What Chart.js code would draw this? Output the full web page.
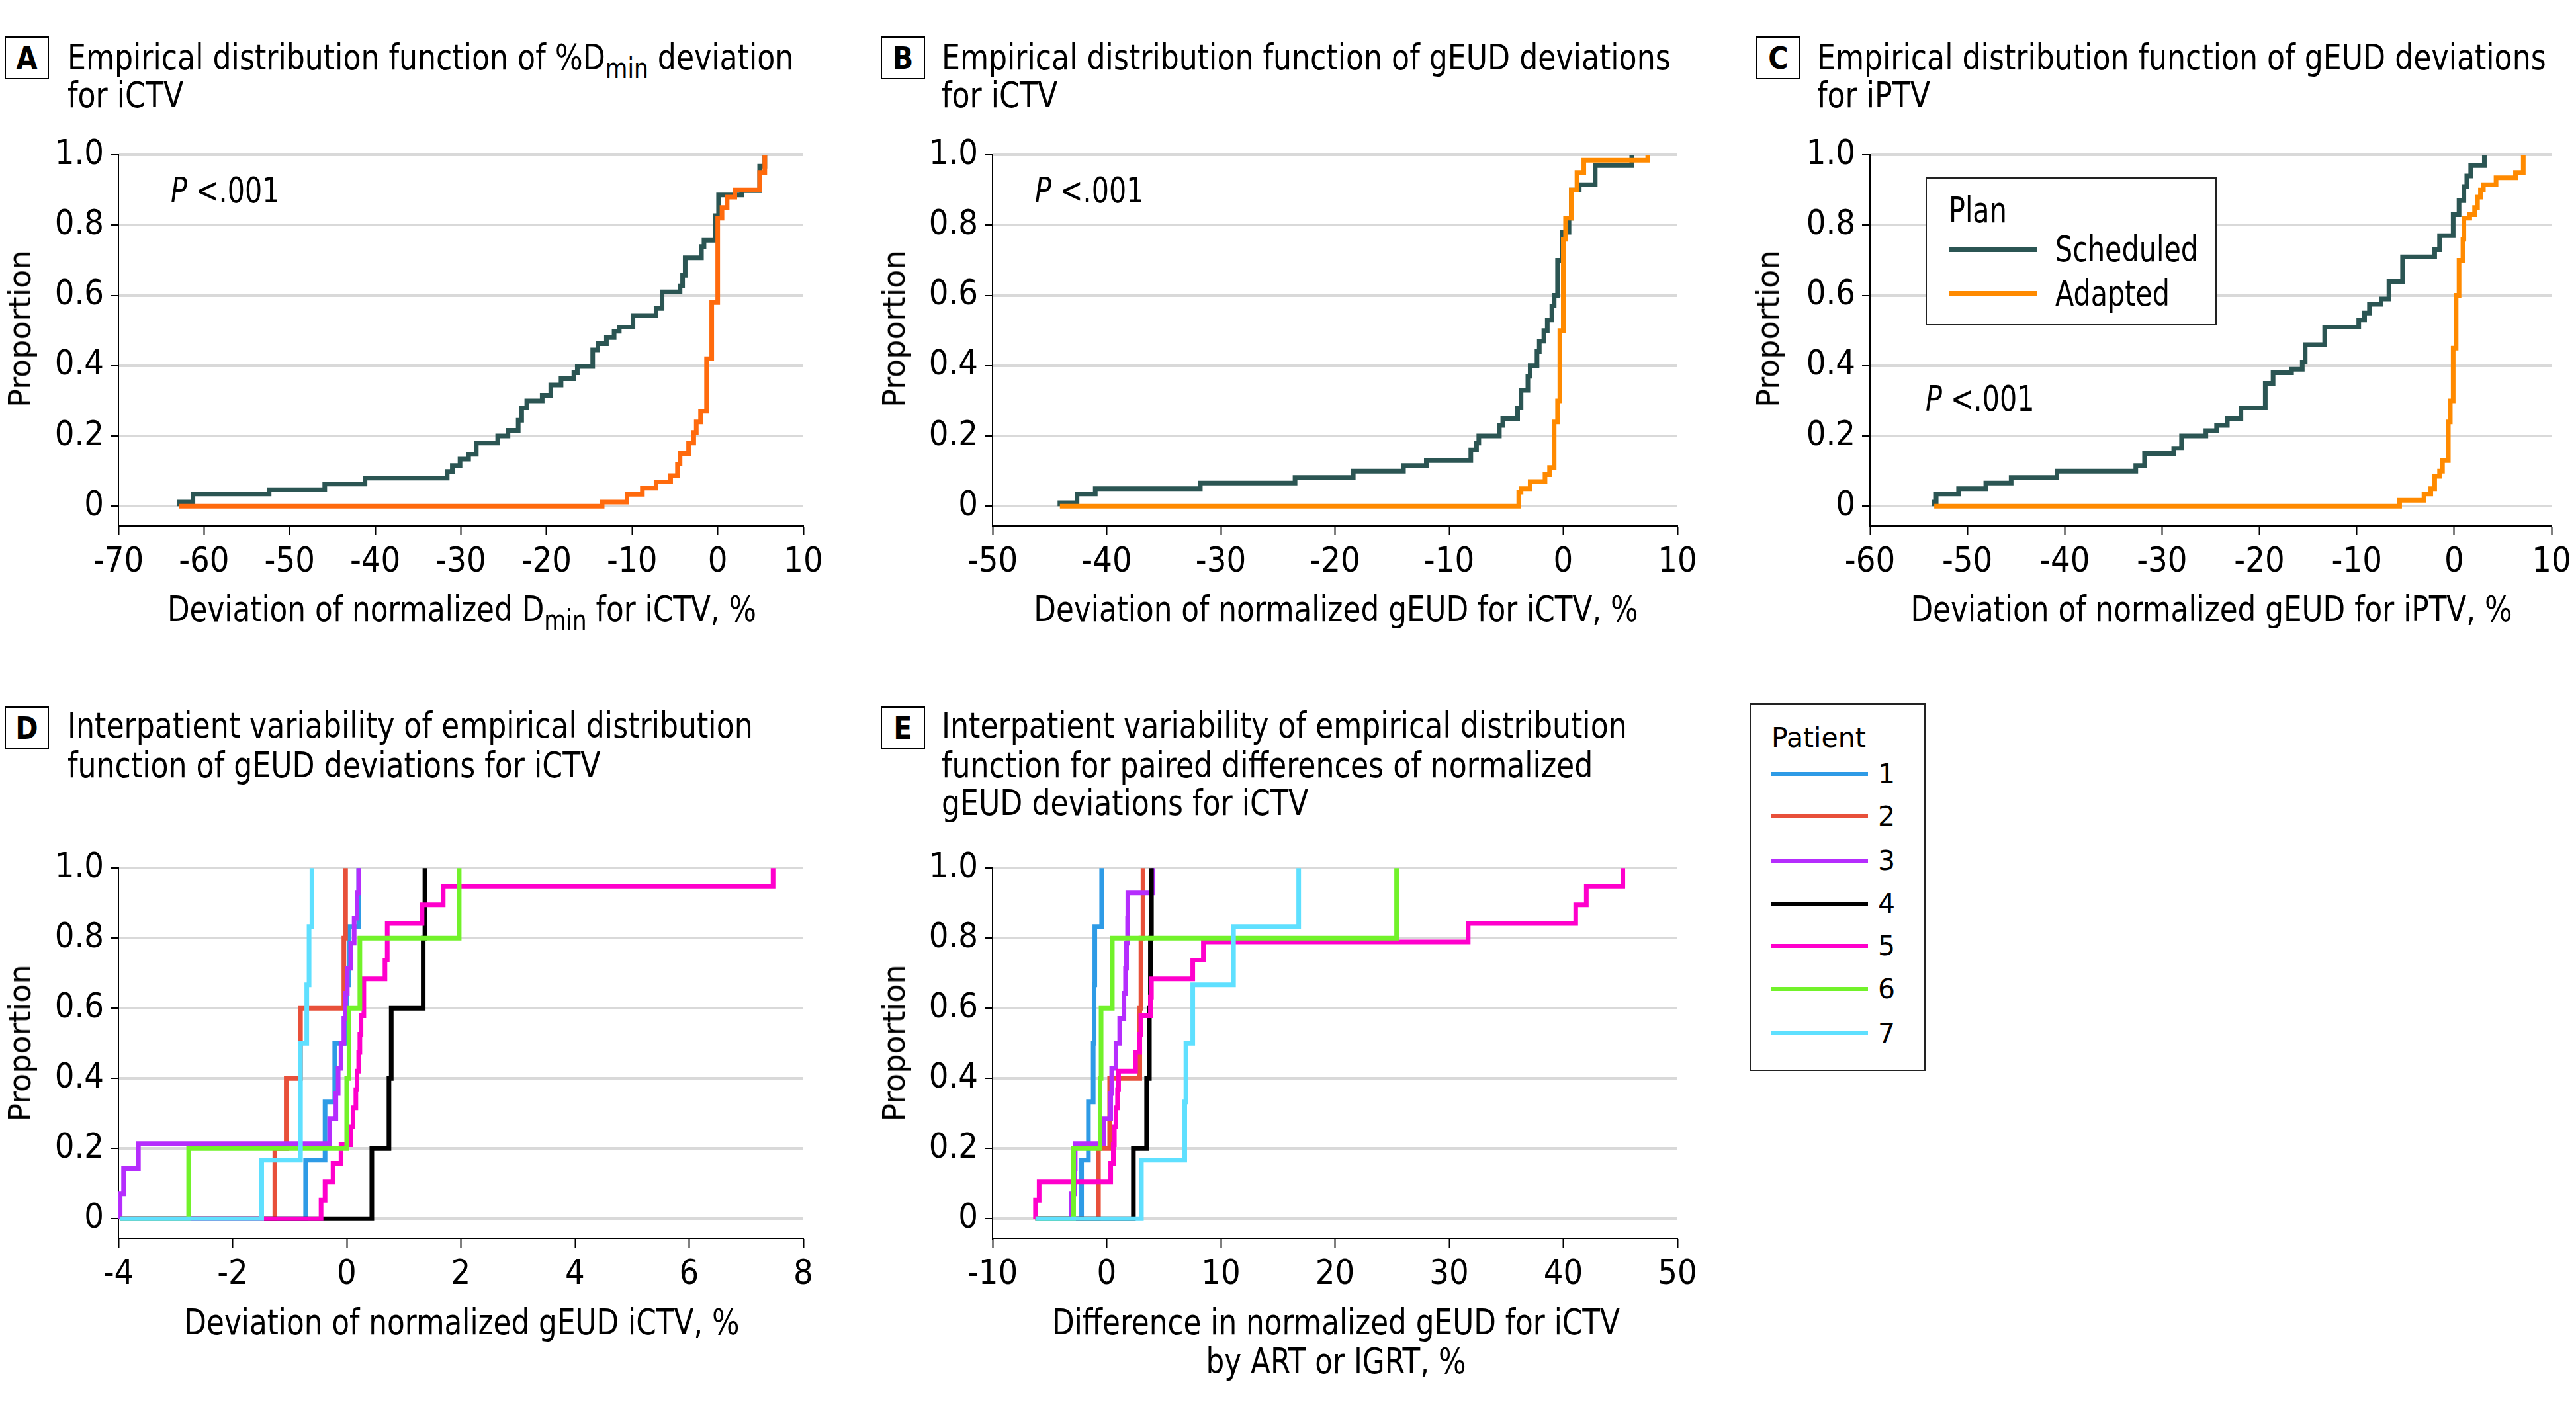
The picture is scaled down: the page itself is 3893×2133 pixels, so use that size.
<!DOCTYPE html>
<html>
<head>
<meta charset="utf-8">
<script src="https://cdn.jsdelivr.net/npm/chart.js@4.4.0/dist/chart.umd.min.js"></script>
<style>
body { margin: 0; background: #fff; width: 3893px; height: 2133px; position: relative; overflow: hidden;
  font-family: "Liberation Sans Narrow", "DejaVu Sans Condensed", "Arial Narrow", sans-serif; color: #000; }
canvas { position: absolute; }
.t { position: absolute; white-space: nowrap; line-height: 1; font-size: 54px; }
.mid { transform: translateY(-50%); }
.sq { transform: translateY(-50%) scaleX(0.91); transform-origin: left center; }
.sq2 { transform: translateY(-50%) scaleX(0.85); transform-origin: left center; }
.ctr { transform: translate(-50%, -50%) scaleX(0.9); }
.box { position: absolute; border: 2px solid #000; box-sizing: border-box; font-weight: bold; font-size: 46px;
  display: flex; align-items: center; justify-content: center; }
.prop { position: absolute; font-family: "DejaVu Sans", sans-serif; font-size: 46px; line-height: 1;
  transform: translate(-50%, -50%) rotate(-90deg); white-space: nowrap; }
sub { font-size: 0.78em; vertical-align: -0.3em; line-height: 0; }
.leg { position: absolute; border: 2px solid #222; box-sizing: border-box; }
.sw { position: absolute; height: 8px; transform: translateY(-50%); }
.pat { font-family: "DejaVu Sans", sans-serif; font-size: 41px; }
</style>
</head>
<body>
<canvas id="cA"></canvas>
<canvas id="cB"></canvas>
<canvas id="cC"></canvas>
<canvas id="cD"></canvas>
<canvas id="cE"></canvas>

<div class="box" style="left:7px;top:55px;width:67px;height:65px">A</div>
<div class="t sq" style="left:102px;top:87px">Empirical distribution function of %D<sub>min</sub> deviation</div>
<div class="t sq" style="left:102px;top:144px">for iCTV</div>
<div class="box" style="left:1331px;top:55px;width:67px;height:65px">B</div>
<div class="t sq" style="left:1423px;top:87px">Empirical distribution function of gEUD deviations</div>
<div class="t sq" style="left:1423px;top:144px">for iCTV</div>
<div class="box" style="left:2654px;top:55px;width:67px;height:65px">C</div>
<div class="t sq" style="left:2746px;top:87px">Empirical distribution function of gEUD deviations</div>
<div class="t sq" style="left:2746px;top:144px">for iPTV</div>
<div class="box" style="left:7px;top:1068px;width:67px;height:65px">D</div>
<div class="t sq" style="left:102px;top:1097px">Interpatient variability of empirical distribution</div>
<div class="t sq" style="left:102px;top:1157px">function of gEUD deviations for iCTV</div>
<div class="box" style="left:1331px;top:1068px;width:67px;height:65px">E</div>
<div class="t sq" style="left:1423px;top:1097px">Interpatient variability of empirical distribution</div>
<div class="t sq" style="left:1423px;top:1157px">function for paired differences of normalized</div>
<div class="t sq" style="left:1423px;top:1214px">gEUD deviations for iCTV</div>

<div class="t ctr" style="left:698px;top:921px">Deviation of normalized D<sub>min</sub> for iCTV, %</div>
<div class="t ctr" style="left:2019px;top:921px">Deviation of normalized gEUD for iCTV, %</div>
<div class="t ctr" style="left:3342px;top:921px">Deviation of normalized gEUD for iPTV, %</div>
<div class="t ctr" style="left:698px;top:1999px">Deviation of normalized gEUD iCTV, %</div>
<div class="t ctr" style="left:2019px;top:1999px">Difference in normalized gEUD for iCTV</div>
<div class="t ctr" style="left:2019px;top:2058px">by ART or IGRT, %</div>

<div class="prop" style="left:30px;top:497px">Proportion</div>
<div class="prop" style="left:1351px;top:497px">Proportion</div>
<div class="prop" style="left:2672px;top:497px">Proportion</div>
<div class="prop" style="left:30px;top:1577px">Proportion</div>
<div class="prop" style="left:1351px;top:1577px">Proportion</div>

<div class="t sq2" style="left:258px;top:288px"><i>P</i> &lt;.001</div>
<div class="t sq2" style="left:1564px;top:288px"><i>P</i> &lt;.001</div>
<div class="t sq2" style="left:2910px;top:603px"><i>P</i> &lt;.001</div>

<div class="leg" style="left:2910px;top:268px;width:440px;height:224px;background:#fff"></div>
<div id="planLeg"></div>
<div class="leg" style="left:2644px;top:1063px;width:266px;height:556px"></div>
<div id="patLeg"></div>

<script>
// ECDF points [x, proportion]
const aScheduled = [[-62.9,0],[-62.9,0.012],[-61.3,0.035],[-52.4,0.047],[-45.9,0.063],[-41.2,0.08],[-31.6,0.099],[-31.0,0.116],[-30.1,0.134],[-29.1,0.148],[-28.2,0.18],[-25.7,0.2],[-24.5,0.216],[-23.3,0.245],[-22.9,0.28],[-22.3,0.3],[-20.5,0.316],[-19.5,0.345],[-18.3,0.363],[-16.8,0.38],[-16.4,0.398],[-14.6,0.445],[-14.0,0.463],[-13.0,0.48],[-12.1,0.498],[-11.5,0.51],[-9.9,0.543],[-7.2,0.563],[-6.5,0.61],[-4.4,0.627],[-4.1,0.657],[-3.8,0.707],[-1.9,0.739],[-1.6,0.757],[-0.3,0.827],[0.1,0.886],[2.8,0.898],[4.9,0.968],[5.5,1.0]];
const aAdapted = [[-62.9,0],[-13.5,0.012],[-10.6,0.034],[-8.8,0.052],[-7.2,0.069],[-5.5,0.087],[-4.7,0.12],[-4.4,0.15],[-3.4,0.18],[-2.8,0.21],[-2.5,0.24],[-2.0,0.27],[-1.3,0.42],[-0.7,0.58],[0.0,0.82],[0.5,0.85],[1.1,0.88],[2.0,0.9],[4.9,0.95],[5.5,1.0]];

const bScheduled = [[-44.1,0],[-44.1,0.01],[-42.6,0.035],[-41.0,0.05],[-31.8,0.066],[-23.5,0.082],[-18.4,0.1],[-14.0,0.116],[-12.0,0.13],[-8.1,0.16],[-7.6,0.18],[-7.4,0.2],[-5.6,0.23],[-5.3,0.25],[-4.0,0.28],[-3.7,0.33],[-3.1,0.37],[-2.9,0.4],[-2.3,0.44],[-2.1,0.47],[-1.7,0.5],[-1.4,0.53],[-1.0,0.57],[-0.8,0.6],[-0.5,0.7],[-0.1,0.78],[0.5,0.82],[0.7,0.9],[1.4,0.915],[2.8,0.97],[6.0,1.0]];
const bAdapted = [[-44.1,0],[-3.9,0.04],[-3.7,0.05],[-2.9,0.07],[-1.6,0.09],[-1.2,0.11],[-0.8,0.24],[-0.5,0.3],[-0.3,0.5],[0.0,0.76],[0.2,0.82],[0.7,0.9],[1.2,0.95],[1.8,0.985],[7.4,1.0]];

const cScheduled = [[-53.4,0],[-53.4,0.012],[-53.2,0.035],[-50.9,0.05],[-48.1,0.066],[-45.5,0.082],[-40.8,0.1],[-32.7,0.116],[-31.8,0.15],[-28.8,0.165],[-28.0,0.2],[-25.5,0.215],[-24.4,0.23],[-23.3,0.25],[-21.9,0.28],[-19.4,0.35],[-18.6,0.38],[-16.7,0.39],[-15.6,0.41],[-15.3,0.46],[-13.3,0.51],[-9.8,0.53],[-9.2,0.55],[-8.7,0.575],[-7.5,0.59],[-6.7,0.64],[-5.3,0.71],[-2.0,0.73],[-1.5,0.77],[-0.1,0.83],[0.5,0.87],[1.0,0.91],[1.3,0.94],[1.7,0.97],[3.1,1.0]];
const cAdapted = [[-53.4,0],[-5.6,0.017],[-3.1,0.035],[-2.4,0.05],[-2.0,0.085],[-1.5,0.1],[-1.2,0.13],[-0.6,0.24],[-0.4,0.3],[-0.1,0.45],[0.2,0.6],[0.5,0.7],[0.9,0.76],[1.0,0.82],[1.6,0.83],[2.1,0.85],[2.4,0.88],[2.7,0.9],[3.0,0.915],[4.3,0.935],[6.3,0.95],[7.1,1.0]];

const dPatients = [
  [[-3.97,0],[-0.72,0.167],[-0.38,0.333],[-0.21,0.5],[0.0,0.667],[0.04,0.833],[0.21,1.0]],
  [[-3.97,0],[-1.26,0.2],[-1.06,0.4],[-0.81,0.6],[-0.05,0.8],[-0.02,1.0]],
  [[-3.97,0],[-3.97,0.071],[-3.91,0.143],[-3.65,0.214],[-0.30,0.286],[-0.19,0.357],[-0.15,0.429],[-0.10,0.5],[-0.05,0.571],[-0.02,0.643],[0.01,0.714],[0.07,0.786],[0.13,0.857],[0.18,0.929],[0.21,1.0]],
  [[-3.97,0],[0.44,0.2],[0.74,0.4],[0.78,0.6],[1.34,0.8],[1.37,1.0]],
  [[-3.97,0],[-0.45,0.053],[-0.38,0.105],[-0.24,0.158],[-0.10,0.211],[0.07,0.263],[0.11,0.316],[0.16,0.368],[0.18,0.421],[0.21,0.474],[0.23,0.526],[0.25,0.579],[0.30,0.632],[0.30,0.684],[0.67,0.737],[0.71,0.789],[0.71,0.842],[1.32,0.895],[1.69,0.947],[7.47,1.0]],
  [[-3.97,0],[-2.77,0.2],[0.0,0.4],[0.04,0.6],[0.23,0.8],[1.97,1.0]],
  [[-3.97,0],[-1.49,0.167],[-0.81,0.333],[-0.81,0.5],[-0.70,0.667],[-0.66,0.833],[-0.61,1.0]]
];

const ePatients = [
  [[-6.24,0],[-2.2,0.167],[-1.6,0.333],[-1.18,0.5],[-1.1,0.667],[-1.04,0.833],[-0.44,1.0]],
  [[-6.24,0],[-0.72,0.2],[0.26,0.4],[2.9,0.6],[3.0,0.8],[3.18,1.0]],
  [[-6.24,0],[-3.13,0.071],[-2.81,0.143],[-2.76,0.214],[-0.26,0.286],[0.35,0.357],[0.44,0.429],[0.81,0.5],[1.14,0.571],[1.51,0.643],[1.65,0.714],[1.74,0.786],[1.83,0.857],[1.85,0.929],[4.06,1.0]],
  [[-6.24,0],[2.34,0.2],[3.5,0.4],[3.74,0.6],[3.83,0.8],[3.92,1.0]],
  [[-6.24,0],[-6.24,0.053],[-5.92,0.105],[0.35,0.158],[0.58,0.211],[0.67,0.263],[0.81,0.316],[0.95,0.368],[1.04,0.421],[2.53,0.474],[2.9,0.526],[2.99,0.579],[3.83,0.632],[3.92,0.684],[7.54,0.737],[8.47,0.789],[31.67,0.842],[41.09,0.895],[42.02,0.947],[45.22,1.0]],
  [[-6.24,0],[-2.9,0.2],[-0.58,0.4],[-0.49,0.6],[0.49,0.8],[25.4,1.0]],
  [[-6.24,0],[3.04,0.167],[6.84,0.333],[6.94,0.5],[7.54,0.667],[11.11,0.833],[16.82,1.0]]
];

const yTicks = [0, 0.2, 0.4, 0.6, 0.8, 1.0];
const planLabels = ['Scheduled', 'Adapted'];
const patientLabels = ['1', '2', '3', '4', '5', '6', '7'];

const teal = '#2b5553';
const orangeA = '#ff6a0d';
const orangeBC = '#ff8a00';
const patientColors = ['#2e9be6', '#e8503a', '#b52dfd', '#000000', '#ff00cc', '#72f22a', '#5fe0ff'];

const COND = '"Liberation Sans Narrow", "DejaVu Sans Condensed", "Arial Narrow", sans-serif';

function panel(id, area, xMin, xMax, xStep, series) {
  const padL = 200, padT = 40, padR = 60, padB = 120;
  const canvas = document.getElementById(id);
  const w = area.R - area.L + padL + padR;
  const h = area.B - area.T + padT + padB;
  canvas.width = w;
  canvas.height = h;
  canvas.style.left = (area.L - padL) + 'px';
  canvas.style.top = (area.T - padT) + 'px';
  canvas.style.width = w + 'px';
  canvas.style.height = h + 'px';

  new Chart(canvas, {
    type: 'line',
    data: {
      datasets: series.map(s => ({
        data: s.pts.map(p => ({ x: p[0], y: p[1] })),
        borderColor: s.color,
        borderWidth: 7,
        stepped: true,
        pointRadius: 0,
        fill: false,
        order: s.order,
        clip: false
      }))
    },
    options: {
      responsive: false,
      animation: false,
      devicePixelRatio: 1,
      layout: { padding: { left: 0, top: padT, right: padR, bottom: 0 } },
      plugins: { legend: { display: false }, tooltip: { enabled: false } },
      scales: {
        x: {
          type: 'linear', min: xMin, max: xMax,
          ticks: { stepSize: xStep, color: '#000', font: { family: COND, size: 52 }, padding: 10, maxRotation: 0, autoSkip: false },
          grid: { drawOnChartArea: false, tickLength: 14, tickColor: '#000', tickWidth: 2 },
          border: { color: '#000', width: 2 },
          afterFit: s => { s.height = padB; }
        },
        y: {
          min: -0.056, max: 1,
          afterBuildTicks: s => { s.ticks = yTicks.map(v => ({ value: v })); },
          ticks: { color: '#000', font: { family: COND, size: 52 }, padding: 10,
            callback: v => v === 0 ? '0' : v.toFixed(1) },
          grid: { color: '#d9d9d9', lineWidth: 4, tickLength: 12, tickColor: '#000', tickWidth: 2 },
          border: { color: '#000', width: 2 },
          afterFit: s => { s.width = padL; }
        }
      }
    }
  });
}

panel('cA', { L: 179, R: 1214, T: 233, B: 795 }, -70, 10, 10, [
  { pts: aScheduled, color: teal, order: 2 },
  { pts: aAdapted, color: orangeA, order: 1 }
]);
panel('cB', { L: 1500, R: 2535, T: 233, B: 795 }, -50, 10, 10, [
  { pts: bScheduled, color: teal, order: 2 },
  { pts: bAdapted, color: orangeBC, order: 1 }
]);
panel('cC', { L: 2826, R: 3856, T: 233, B: 795 }, -60, 10, 10, [
  { pts: cScheduled, color: teal, order: 2 },
  { pts: cAdapted, color: orangeBC, order: 1 }
]);
panel('cD', { L: 179, R: 1214, T: 1311, B: 1872 }, -4, 8, 2,
  dPatients.map((pts, i) => ({ pts: pts, color: patientColors[i], order: 8 - i })));
panel('cE', { L: 1500, R: 2535, T: 1311, B: 1872 }, -10, 50, 10,
  ePatients.map((pts, i) => ({ pts: pts, color: patientColors[i], order: 8 - i })));

// legends
let html = '<div class="t sq2" style="left:2945px;top:318px">Plan</div>';
const planColors = [teal, orangeBC];
const planY = [377, 444];
planLabels.forEach((lab, i) => {
  html += '<div class="sw" style="left:2945px;top:' + planY[i] + 'px;width:134px;background:' + planColors[i] + '"></div>';
  html += '<div class="t sq2" style="left:3106px;top:' + planY[i] + 'px">' + lab + '</div>';
});
document.getElementById('planLeg').innerHTML = html;

html = '<div class="t mid pat" style="left:2677px;top:1115px">Patient</div>';
const patY = [1170, 1234, 1301, 1366, 1430, 1495, 1562];
patientLabels.forEach((lab, i) => {
  html += '<div class="sw" style="left:2677px;top:' + patY[i] + 'px;width:146px;height:6px;background:' + patientColors[i] + '"></div>';
  html += '<div class="t mid pat" style="left:2838px;top:' + patY[i] + 'px">' + lab + '</div>';
});
document.getElementById('patLeg').innerHTML = html;
</script>
</body>
</html>
